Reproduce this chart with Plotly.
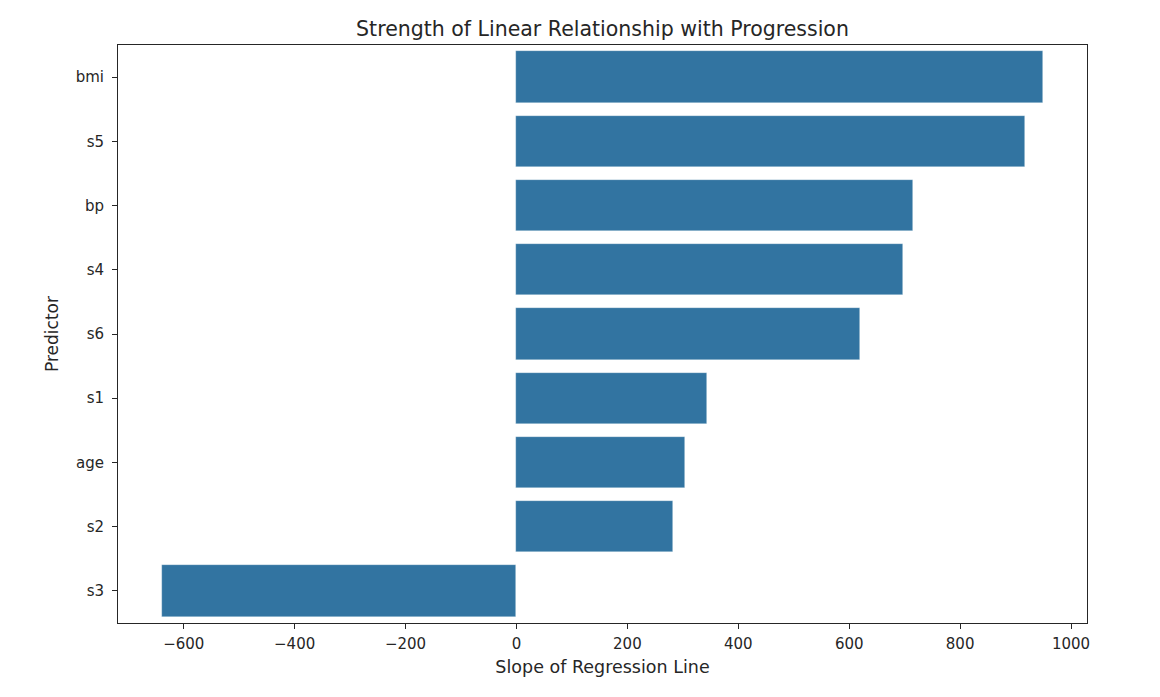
import plotly.graph_objects as go

# slope of the simple regression line for each predictor
predictors = ["bmi", "s5", "bp", "s4", "s6", "s1", "age", "s2", "s3"]
slopes = [949.4, 916.1, 714.7, 696.9, 619.2, 343.3, 304.2, 281.8, -639.1]

x_ticks = [-600, -400, -200, 0, 200, 400, 600, 800, 1000]
x_tick_text = ["\u2212600", "\u2212400", "\u2212200", "0", "200", "400", "600", "800", "1000"]

fig = go.Figure()
fig.add_trace(go.Bar(
    x=slopes,
    y=predictors,
    orientation="h",
    width=0.8,
    marker=dict(color="#3274a1", line=dict(color="rgba(255,255,255,0.5)", width=0.6)),
))

# page is drawn ~8px in from the window edge, so margins are shifted
fig.update_layout(
    width=1160, height=697,
    margin=dict(l=110, r=81, t=37, b=82),
    paper_bgcolor="white", plot_bgcolor="white",
    font=dict(family="DejaVu Sans", size=15, color="#262626"),
    title=dict(text="Strength of Linear Relationship with Progression",
               x=0.5, xanchor="center", xref="paper",
               y=1 - 21 / 697, yanchor="middle", font=dict(size=20.5, color="#262626")),
    showlegend=False,
    bargap=0,
)

fig.update_xaxes(
    range=[-718.5, 1028.8],
    tickvals=x_ticks, ticktext=x_tick_text,
    showgrid=False, zeroline=False,
    ticks="outside", ticklen=5, tickwidth=1, tickcolor="#262626",
    ticklabelstandoff=2,
    showline=True, linecolor="#262626", linewidth=1, mirror=True,
    title=dict(text="Slope of Regression Line", standoff=8, font=dict(size=17.5)),
)
fig.update_yaxes(
    type="category",
    categoryorder="array", categoryarray=predictors,
    range=[8.5, -0.5],
    showgrid=False, zeroline=False,
    ticks="outside", ticklen=5, tickwidth=1, tickcolor="#262626",
    ticklabelstandoff=5,
    showline=True, linecolor="#262626", linewidth=1, mirror=True,
    title=dict(text="Predictor", standoff=12, font=dict(size=17)),
)

fig.write_html("out.html")
